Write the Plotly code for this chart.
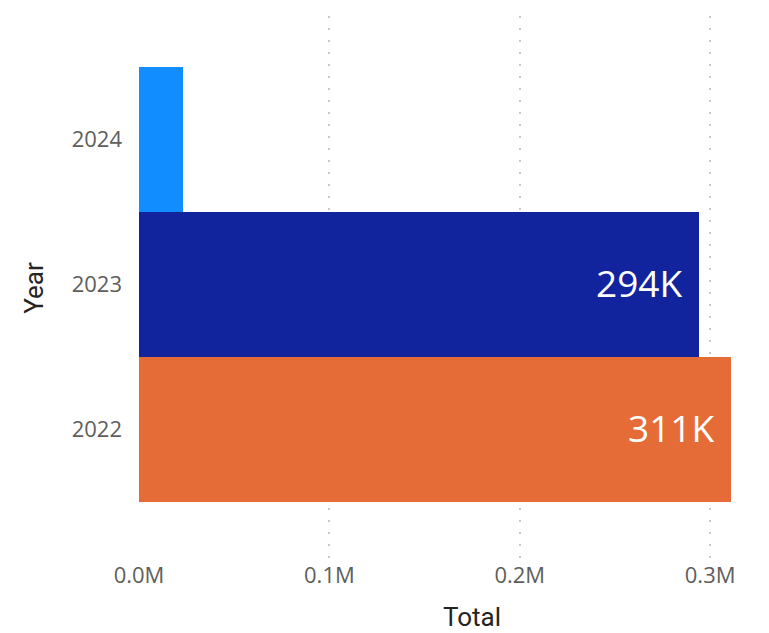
import plotly.graph_objects as go

years = ["2022", "2023", "2024"]
totals = [311000, 294000, 23000]
labels = ["311K", "294K", ""]
colors = ["#E66C37", "#12239E", "#118DFF"]

FONT = "Segoe UI, Open Sans, sans-serif"
TITLE_FONT = "Roboto, DejaVu Sans, sans-serif"

fig = go.Figure()
fig.add_trace(go.Bar(
    y=years, x=totals, orientation="h",
    marker=dict(color=colors, line=dict(width=0)),
    hoverinfo="skip",
))

annots = []
for i, (v, t) in enumerate(zip(totals, labels)):
    if t:
        annots.append(dict(x=v, y=i, xref="x", yref="y", text=t, showarrow=False,
                           xanchor="right", yanchor="middle",
                           xshift=-15, yshift=2,
                           font=dict(family=FONT, size=37, color="#FFFFFF")))
# x-axis title (offset to the right as in the reference)
annots.append(dict(x=0.56, y=0, xref="paper", yref="paper", text="Total",
                   showarrow=False, xanchor="center", yanchor="middle", yshift=-57,
                   font=dict(family=TITLE_FONT, size=26, color="#252423")))

fig.update_layout(
    width=769, height=633,
    margin=dict(l=139, r=36, t=16, b=73),
    plot_bgcolor="white", paper_bgcolor="white",
    bargap=0,
    showlegend=False,
    font=dict(family=FONT),
    annotations=annots,
)
fig.update_xaxes(
    range=[0, 312000],
    tickvals=[0, 100000, 200000, 300000],
    ticktext=["0.0M", "0.1M", "0.2M", "0.3M"],
    showgrid=True, gridcolor="#C8C8C8", gridwidth=2, griddash="2px,10px",
    zeroline=False, showline=False, ticks="",
    tickfont=dict(size=22, color="#605E5C"),
)
fig.update_yaxes(
    type="category",
    categoryorder="array", categoryarray=years,
    range=[-0.9, 2.85],
    showgrid=False, zeroline=False, showline=False, ticks="",
    tickfont=dict(size=22, color="#605E5C"),
    ticklabelstandoff=16,
    title=dict(text="Year", font=dict(family=TITLE_FONT, size=26, color="#252423"), standoff=20),
)

fig.write_html("out.html", config={"displayModeBar": False},
               post_script="document.body.style.margin='0';")
